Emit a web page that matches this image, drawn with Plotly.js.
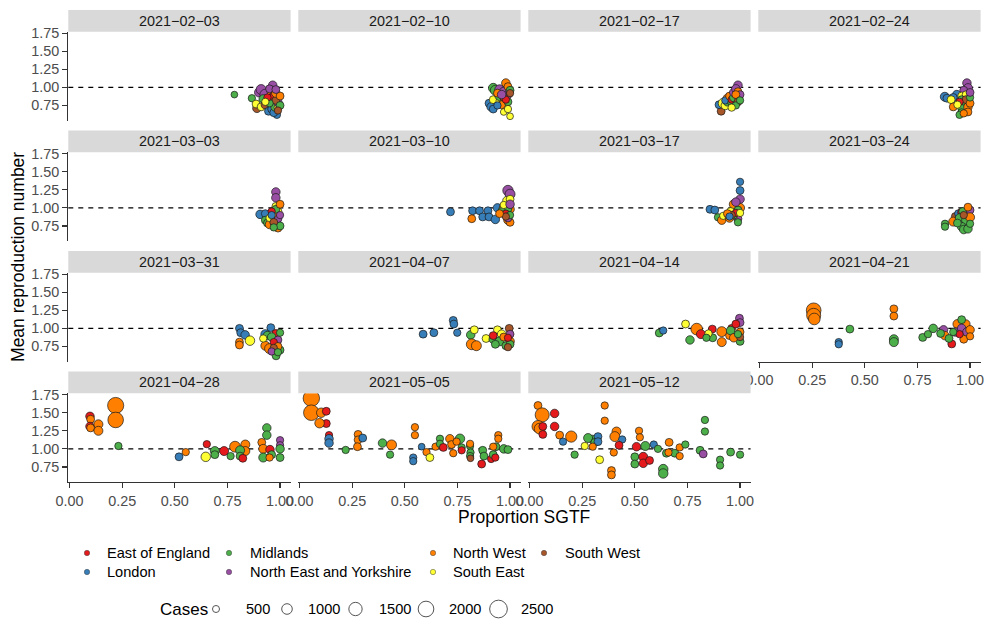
<!DOCTYPE html>
<html>
<head>
<meta charset="utf-8">
<script src="https://cdn.plot.ly/plotly-3.0.1.min.js"></script>
<style>
  html, body { margin: 0; padding: 0; background: #fff; }
  #chart { width: 986px; height: 624px; }
</style>
</head>
<body>
<div id="chart"></div>
<script>
// Facet labels (one panel per week)
const weeks = ['2021-02-03', '2021-02-10', '2021-02-17', '2021-02-24',
               '2021-03-03', '2021-03-10', '2021-03-17', '2021-03-24',
               '2021-03-31', '2021-04-07', '2021-04-14', '2021-04-21',
               '2021-04-28', '2021-05-05', '2021-05-12'];

// Regions: code, label, colour
const regionCodes  = ['E', 'L', 'M', 'N', 'W', 'S', 'B'];
const regionNames  = ['East of England', 'London', 'Midlands', 'North East and Yorkshire',
                      'North West', 'South East', 'South West'];
const regionColors = ['#E41A1C', '#377EB8', '#4DAF4A', '#984EA3', '#FF7F00', '#FFFF33', '#A65628'];

// Size legend breaks (cases)
const caseBreaks = [500, 1000, 1500, 2000, 2500];

// Axis ticks
const xTicks = [0, 0.25, 0.5, 0.75, 1];
const xTickText = ['0.00', '0.25', '0.50', '0.75', '1.00'];
const yTicks = [0.75, 1, 1.25, 1.5, 1.75];
const yTickText = ['0.75', '1.00', '1.25', '1.50', '1.75'];

// Each point: [region, proportion SGTF, mean R, cases]
const w0203 = [
  ['M',0.783,0.90,470], ['M',0.866,0.85,540],
  ['B',0.89,0.71,690], ['S',0.886,0.77,610], ['N',0.90,0.93,760], ['N',0.91,0.97,900],
  ['N',0.93,0.90,1040], ['M',0.92,0.84,690], ['S',0.91,0.73,610], ['W',0.94,0.80,760],
  ['B',0.93,0.76,690], ['L',0.945,0.67,610], ['L',0.96,0.70,610], ['L',0.985,0.62,540],
  ['L',0.97,0.65,610], ['W',0.96,0.94,760], ['W',0.96,0.85,830], ['N',0.965,1.03,690],
  ['N',0.95,0.98,610], ['E',0.97,0.88,610], ['M',0.976,0.73,690], ['S',0.99,0.72,610],
  ['N',0.99,0.79,690], ['B',0.98,0.82,610], ['M',0.95,0.78,540], ['W',0.98,0.92,690],
  ['E',0.94,0.86,540], ['S',0.93,0.80,540], ['M',1.00,0.75,610], ['B',0.99,0.68,540],
  ['W',1.0,0.88,610], ['N',0.98,0.97,610]
];
const w0210 = [
  ['L',0.90,0.78,610], ['L',0.91,0.73,690], ['L',0.92,0.70,610], ['S',0.92,0.83,610],
  ['S',0.95,0.81,540], ['S',0.98,0.74,540], ['S',1.0,0.60,470], ['S',0.97,0.66,470],
  ['M',0.92,0.99,830], ['M',0.93,0.96,900], ['N',0.95,0.97,830], ['N',0.97,0.94,760],
  ['W',0.98,1.06,690], ['W',0.99,1.01,610], ['N',0.99,0.90,690], ['M',0.95,0.88,760],
  ['B',0.97,0.86,610], ['W',0.96,0.76,610], ['M',0.99,0.80,610], ['E',0.98,0.83,540],
  ['L',0.94,0.75,540], ['S',0.99,0.70,540], ['M',1.0,0.96,610], ['B',1.0,0.92,540],
  ['W',0.94,0.92,610], ['N',0.96,0.90,690]
];
const w0217 = [
  ['B',0.91,0.67,610], ['L',0.90,0.76,610], ['S',0.92,0.78,900], ['S',0.93,0.75,690],
  ['M',0.94,0.80,690], ['W',0.94,0.85,690], ['L',0.93,0.82,540], ['M',0.96,0.79,610],
  ['W',0.95,0.88,610], ['E',0.96,0.83,540], ['M',0.97,0.86,690], ['N',0.97,0.93,690],
  ['N',0.99,1.03,690], ['N',0.98,0.98,690], ['W',0.99,0.94,610], ['M',0.99,0.88,610],
  ['B',0.99,0.80,610], ['M',0.98,0.75,540], ['S',0.96,0.72,540], ['N',1.0,0.90,610],
  ['W',0.98,0.90,610], ['M',1.0,0.82,540]
];
const w0224 = [
  ['L',0.88,0.87,760], ['L',0.89,0.85,610], ['L',0.937,0.90,690], ['L',0.92,0.86,610],
  ['S',0.91,0.83,610], ['W',0.92,0.73,610], ['N',0.985,1.06,690], ['N',0.99,0.99,760],
  ['N',0.97,0.96,610], ['S',0.96,0.88,610], ['S',0.98,0.90,540], ['M',0.96,0.83,610],
  ['M',0.96,0.77,610], ['M',0.96,0.71,610], ['M',0.96,0.65,610], ['M',0.95,0.62,540],
  ['W',0.99,0.73,690], ['W',0.99,0.66,610], ['W',0.97,0.64,540], ['B',0.98,0.83,610],
  ['E',0.95,0.80,540], ['S',0.94,0.76,540], ['W',1.0,0.78,610], ['M',1.0,0.86,540],
  ['N',1.0,0.93,610]
];
const w0303 = [
  ['L',0.905,0.91,690], ['L',0.93,0.92,610], ['N',0.98,1.22,690], ['N',0.98,1.14,690],
  ['M',0.93,0.83,610], ['M',0.94,0.79,610], ['W',0.95,0.77,690], ['M',0.96,0.88,690],
  ['S',0.98,1.02,610], ['S',0.99,0.95,610], ['N',0.99,0.85,610], ['W',0.97,0.93,690],
  ['M',0.98,0.98,610], ['E',0.96,0.95,540], ['W',0.99,0.72,610], ['M',1.0,0.75,610],
  ['S',0.95,0.86,540], ['B',0.97,0.80,610], ['N',1.0,0.90,540], ['M',0.97,0.73,540],
  ['W',1.0,1.05,610], ['L',0.96,0.90,540]
];
const w0310 = [
  ['L',0.717,0.945,610], ['L',0.822,0.96,610], ['L',0.855,0.96,610], ['L',0.895,0.96,610],
  ['W',0.818,0.85,610], ['L',0.87,0.875,610], ['L',0.90,0.875,610], ['L',0.93,0.84,690],
  ['L',0.94,1.0,690], ['L',0.96,0.93,610], ['N',0.99,1.24,970], ['N',1.0,1.19,900],
  ['S',0.985,1.10,690], ['S',1.0,1.12,610], ['W',0.97,1.0,760], ['W',1.0,0.98,690],
  ['M',0.99,0.99,610], ['W',0.99,0.83,690], ['W',1.0,0.80,610], ['N',0.99,0.86,610],
  ['M',0.96,0.95,610], ['S',0.97,1.04,540], ['E',0.98,0.92,540], ['M',1.0,0.90,540],
  ['B',0.98,0.88,540], ['W',0.95,0.92,610], ['N',1.0,1.05,690]
];
const w0317 = [
  ['L',0.857,0.98,610], ['L',0.88,0.97,610], ['M',0.895,0.87,540], ['W',0.913,0.83,690],
  ['S',0.92,0.89,540], ['L',1.0,1.36,540], ['L',1.0,1.24,610], ['N',1.0,1.12,690],
  ['W',0.97,1.05,760], ['W',1.0,1.0,760], ['S',0.955,0.95,610], ['M',0.99,0.97,610],
  ['N',0.99,0.85,610], ['W',0.95,0.86,690], ['M',0.97,0.90,610], ['E',0.98,0.93,540],
  ['N',0.98,1.08,690], ['M',0.99,0.80,540], ['B',0.96,0.90,540], ['W',0.94,0.92,610],
  ['S',1.0,0.93,540], ['L',0.95,0.88,540]
];
const w0324 = [
  ['M',0.881,0.78,540], ['M',0.881,0.74,540], ['B',0.93,0.88,610], ['W',0.92,0.81,760],
  ['L',0.945,0.92,610], ['E',0.96,0.94,610], ['M',0.965,0.95,610], ['N',1.0,0.97,610],
  ['W',0.99,1.01,610], ['M',0.95,0.86,690], ['M',0.98,0.83,690], ['W',1.0,0.87,760],
  ['M',0.96,0.74,690], ['M',0.97,0.70,690], ['M',0.99,0.71,690], ['M',0.94,0.79,610],
  ['B',0.97,0.90,540], ['M',1.0,0.78,540]
];
const w0331 = [
  ['L',0.807,1.0,610], ['L',0.813,0.94,610], ['L',0.834,0.91,690], ['W',0.807,0.81,610],
  ['W',0.807,0.77,610], ['S',0.857,0.83,830], ['L',0.956,1.01,610], ['L',0.93,0.92,760],
  ['M',0.94,0.90,690], ['E',0.98,0.93,610], ['W',0.93,0.76,760], ['W',0.95,0.72,900],
  ['M',0.96,0.88,690], ['M',0.98,0.78,610], ['N',0.99,0.84,610], ['M',0.981,0.62,610],
  ['M',1.0,0.70,610], ['E',0.97,0.81,540], ['W',0.99,0.75,610], ['S',0.92,0.86,540],
  ['M',1.0,0.94,540], ['B',0.97,0.73,540], ['N',0.96,0.68,540], ['M',0.99,0.67,540]
];
const w0407 = [
  ['L',0.587,0.92,610], ['L',0.638,0.94,610], ['L',0.73,1.11,610], ['L',0.733,1.06,610],
  ['L',0.749,0.94,540], ['M',0.813,0.91,690], ['W',0.818,0.78,1040], ['W',0.84,0.76,900],
  ['S',0.83,0.98,610], ['S',0.886,0.86,610], ['S',0.94,0.98,610], ['S',0.96,0.92,690],
  ['M',0.92,0.85,690], ['M',0.95,0.82,760], ['M',0.93,0.78,610], ['E',0.92,0.90,610],
  ['B',0.996,1.0,610], ['N',1.0,0.92,610], ['W',1.0,0.82,690], ['M',0.98,0.76,610],
  ['W',0.97,0.88,610], ['M',1.0,0.78,610], ['E',0.99,0.87,540], ['B',0.99,0.74,540]
];
const w0414 = [
  ['M',0.616,0.936,610], ['L',0.635,0.97,540], ['S',0.741,1.06,610], ['W',0.794,0.99,1180],
  ['M',0.762,0.84,690], ['E',0.814,0.92,760], ['E',0.868,0.99,610], ['M',0.87,0.87,610],
  ['W',0.913,0.955,900], ['W',0.913,0.81,760], ['S',0.85,0.93,540], ['M',0.84,0.87,540],
  ['W',0.95,0.90,610], ['E',0.96,1.00,610], ['M',0.955,0.97,690], ['N',0.997,1.14,610],
  ['N',1.0,1.08,610], ['E',0.98,1.06,610], ['M',1.0,0.82,610], ['W',0.97,0.87,690],
  ['W',1.0,0.95,610], ['B',1.0,0.88,540], ['M',0.99,0.92,540]
];
const w0421 = [
  ['W',0.257,1.25,1790], ['W',0.257,1.18,1650], ['W',0.26,1.13,1180], ['L',0.376,0.81,540],
  ['L',0.376,0.78,540], ['M',0.429,0.99,610], ['W',0.638,1.27,610], ['W',0.638,1.17,610],
  ['M',0.638,0.85,760], ['M',0.638,0.81,760], ['M',0.775,0.875,610], ['M',0.825,1.0,690],
  ['M',0.80,0.92,540], ['N',0.874,0.98,690], ['W',0.88,0.90,690], ['M',0.86,0.93,610],
  ['E',0.913,0.785,610], ['M',0.90,0.86,610], ['W',0.94,1.06,760], ['W',0.98,1.06,690],
  ['M',0.96,1.12,610], ['N',0.93,0.95,690], ['N',0.96,1.0,690], ['N',0.985,0.95,690],
  ['W',1.0,0.98,690], ['W',0.97,0.85,610], ['E',0.95,0.92,540], ['W',1.0,0.89,540],
  ['M',0.92,0.95,540]
];
const w0428 = [
  ['E',0.097,1.45,690], ['W',0.10,1.41,610], ['E',0.097,1.31,690], ['W',0.10,1.29,610],
  ['W',0.137,1.34,760], ['W',0.137,1.25,760], ['W',0.219,1.60,2120], ['W',0.219,1.40,1980],
  ['M',0.232,1.04,540], ['L',0.52,0.89,610], ['W',0.552,0.955,540], ['E',0.652,1.065,540],
  ['S',0.647,0.89,830], ['M',0.69,0.97,760], ['M',0.69,0.92,610], ['E',0.734,0.97,760],
  ['M',0.765,0.90,540], ['W',0.786,1.03,1040], ['W',0.835,1.06,760], ['W',0.835,0.97,760],
  ['M',0.81,0.98,760], ['M',0.81,0.90,610], ['E',0.823,0.87,610], ['W',0.913,1.09,610],
  ['W',0.92,1.0,760], ['M',0.92,0.88,760], ['E',0.952,0.99,690], ['M',0.937,1.29,690],
  ['M',0.937,1.19,690], ['N',1.0,1.12,540], ['N',1.0,1.05,540], ['M',1.0,1.0,690],
  ['M',1.0,0.88,610], ['M',0.96,0.92,610], ['W',0.95,0.88,540]
];
const w0505 = [
  ['W',0.056,1.70,2180], ['W',0.056,1.50,1980], ['W',0.103,1.50,830], ['E',0.127,1.52,610],
  ['E',0.127,1.35,610], ['W',0.095,1.355,830], ['E',0.14,1.19,540], ['L',0.14,1.14,690],
  ['L',0.14,1.08,690], ['M',0.219,0.985,540], ['W',0.278,1.2,610], ['W',0.278,1.125,610],
  ['W',0.275,1.03,610], ['L',0.30,1.15,610], ['M',0.394,1.08,690], ['W',0.437,1.055,900],
  ['M',0.43,0.92,540], ['W',0.548,1.30,540], ['W',0.548,1.19,540], ['L',0.54,0.88,540],
  ['L',0.54,0.83,540], ['L',0.58,1.03,470], ['W',0.603,0.955,540], ['S',0.619,0.88,610],
  ['W',0.646,1.03,540], ['M',0.667,1.14,540], ['M',0.667,1.07,540], ['E',0.683,1.02,610],
  ['W',0.714,1.14,690], ['W',0.722,1.06,610], ['W',0.73,0.94,540], ['M',0.762,1.14,830],
  ['M',0.77,1.02,540], ['E',0.77,0.98,540], ['W',0.746,1.10,540], ['M',0.81,1.04,540],
  ['M',0.812,0.95,540], ['M',0.81,0.90,540], ['W',0.81,1.07,540], ['B',0.812,0.87,470],
  ['E',0.865,0.79,610], ['M',0.87,0.98,610], ['M',0.876,0.90,610], ['E',0.91,0.86,540],
  ['W',0.944,1.19,540], ['W',0.944,1.14,540], ['M',0.933,1.03,610], ['M',0.92,0.92,610],
  ['W',0.92,1.03,540], ['M',0.97,1.0,690], ['M',0.99,0.99,610], ['E',0.93,0.88,540]
];
const w0512 = [
  ['W',0.04,1.60,610], ['W',0.06,1.47,1650], ['W',0.04,1.31,1240], ['W',0.048,1.28,1040],
  ['E',0.119,1.49,690], ['E',0.063,1.31,610], ['E',0.063,1.20,610], ['E',0.119,1.31,690],
  ['W',0.143,1.19,610], ['W',0.198,1.17,1110], ['L',0.159,1.10,540], ['W',0.357,1.60,540],
  ['W',0.357,1.39,540], ['M',0.30,1.13,690], ['M',0.278,1.15,760], ['M',0.31,1.09,610],
  ['L',0.325,1.17,610], ['L',0.325,1.10,610], ['W',0.30,1.03,540], ['S',0.262,1.04,540],
  ['M',0.214,0.92,540], ['S',0.333,0.85,610], ['W',0.389,0.70,610], ['W',0.389,0.64,610],
  ['W',0.413,1.24,760], ['W',0.405,1.17,900], ['L',0.44,1.13,540], ['E',0.425,1.05,610],
  ['W',0.40,0.95,540], ['W',0.52,1.25,540], ['W',0.524,1.16,540], ['E',0.508,1.03,690],
  ['M',0.50,0.89,610], ['M',0.50,0.79,610], ['E',0.54,0.89,760], ['E',0.54,0.80,690],
  ['E',0.57,0.84,610], ['M',0.55,1.04,760], ['L',0.59,1.06,540], ['M',0.61,1.0,540],
  ['M',0.635,0.72,830], ['M',0.635,0.66,830], ['W',0.663,1.09,610], ['M',0.65,0.94,610],
  ['M',0.69,0.94,610], ['W',0.713,1.02,540], ['W',0.713,0.90,540], ['M',0.74,1.06,540],
  ['W',0.66,0.95,540], ['M',0.81,0.98,610], ['N',0.825,0.93,610], ['M',0.833,1.40,540],
  ['M',0.833,1.24,540], ['M',0.905,0.85,540], ['M',0.905,0.77,540], ['M',0.955,0.955,610],
  ['M',1.0,0.92,540]
];

const weekPoints = [w0203, w0210, w0217, w0224, w0303, w0310, w0317, w0324,
                    w0331, w0407, w0414, w0421, w0428, w0505, w0512];

// ---- geometry (pixels) ----
const W = 986, H = 624;
const colLeft = [68.3, 298.3, 528.3, 758.3];
const panelW = 222.3;
const rowTop = [31.7, 152.2, 272.7, 393.2];
const panelH = 89;
const stripH = 21.7;
const xRange = [-0.006, 1.05];
const yRange = [0.539, 1.770];
const FONT = 'Liberation Sans, Arial, sans-serif';

const px = p => p / W;
const py = p => 1 - p / H;
// point diameter (px) from case count, area-style scale
const dotSize = c => 0.387 * Math.sqrt(c) - 1.65;
const colourOf = code => regionColors[regionCodes.indexOf(code)];

const traces = [];
const shapes = [];
const annotations = [];
const layout = {
  width: W, height: H,
  margin: {l: 0, r: 0, t: 0, b: 0},
  paper_bgcolor: '#fff', plot_bgcolor: '#fff',
  showlegend: false,
  font: {family: FONT, color: '#4D4D4D'},
  shapes: shapes,
  annotations: annotations
};

weeks.forEach((week, i) => {
  const r = Math.floor(i / 4), c = i % 4;
  const n = i === 0 ? '' : String(i + 1);
  const pts = weekPoints[i];
  const hasX = (r === 3) || (i === 11);
  const hasY = (c === 0);

  layout['xaxis' + n] = {
    domain: [px(colLeft[c]), px(colLeft[c] + panelW)],
    range: xRange, anchor: 'y' + n,
    showgrid: false, zeroline: false, fixedrange: true,
    showline: hasX, linecolor: '#333333', linewidth: 1.2,
    ticks: hasX ? 'outside' : '', ticklen: 5, tickwidth: 1.2, tickcolor: '#333333',
    tickvals: xTicks, ticktext: xTickText, showticklabels: hasX,
    tickfont: {size: 14.4, color: '#4D4D4D', family: FONT}
  };
  layout['yaxis' + n] = {
    domain: [py(rowTop[r] + panelH), py(rowTop[r])],
    range: yRange, anchor: 'x' + n,
    showgrid: false, zeroline: false, fixedrange: true,
    showline: hasY, linecolor: '#333333', linewidth: 1.2,
    ticks: hasY ? 'outside' : '', ticklen: 5, tickwidth: 1.2, tickcolor: '#333333',
    tickvals: yTicks, ticktext: yTickText, showticklabels: hasY,
    tickfont: {size: 14.4, color: '#4D4D4D', family: FONT}
  };

  // reference line at R = 1
  shapes.push({
    type: 'line', layer: 'below',
    xref: 'x' + n + ' domain', x0: 0, x1: 1,
    yref: 'y' + n, y0: 1, y1: 1,
    line: {color: '#000', width: 1.1, dash: '5px,5px'}
  });

  // facet strip
  shapes.push({
    type: 'rect', xref: 'paper', yref: 'paper',
    x0: px(colLeft[c]), x1: px(colLeft[c] + panelW),
    y0: py(rowTop[r]), y1: py(rowTop[r] - stripH),
    fillcolor: '#D9D9D9', line: {width: 0}
  });
  annotations.push({
    xref: 'paper', yref: 'paper',
    x: px(colLeft[c] + panelW / 2), y: py(rowTop[r] - stripH / 2),
    text: week.replace(/-/g, '\u2212'), showarrow: false,
    xanchor: 'center', yanchor: 'middle',
    font: {size: 14.4, color: '#1A1A1A', family: FONT}
  });

  traces.push({
    type: 'scatter', mode: 'markers',
    xaxis: 'x' + n, yaxis: 'y' + n,
    x: pts.map(p => p[1]), y: pts.map(p => p[2]),
    marker: {
      color: pts.map(p => colourOf(p[0])),
      size: pts.map(p => dotSize(p[3])),
      line: {color: '#1A1A1A', width: 0.7},
      opacity: 1
    },
    cliponaxis: true, hoverinfo: 'skip', showlegend: false
  });
});

// axis titles
annotations.push({
  xref: 'paper', yref: 'paper', x: px(18), y: py((rowTop[0] + rowTop[3] + panelH) / 2),
  text: 'Mean reproduction number', textangle: -90, showarrow: false,
  xanchor: 'center', yanchor: 'middle',
  font: {size: 17.5, color: '#000', family: FONT}
});
annotations.push({
  xref: 'paper', yref: 'paper', x: px(524), y: py(517),
  text: 'Proportion SGTF', showarrow: false,
  xanchor: 'center', yanchor: 'middle',
  font: {size: 17.5, color: '#000', family: FONT}
});

// colour legend: two rows, filled column-wise
const legDotX = [87, 229, 433, 544];
const legTextX = [105, 248, 451, 563];
const legRows = [553, 572];
regionNames.forEach((name, k) => {
  const col = Math.floor(k / 2), row = k % 2;
  const cx = legDotX[col], cy = legRows[row];
  shapes.push({
    type: 'circle', xref: 'paper', yref: 'paper',
    x0: px(cx - 2.7), x1: px(cx + 2.7), y0: py(cy + 2.7), y1: py(cy - 2.7),
    fillcolor: regionColors[k], line: {color: '#444', width: 0.5}
  });
  annotations.push({
    xref: 'paper', yref: 'paper', x: px(legTextX[col]), y: py(cy),
    text: name, showarrow: false, xanchor: 'left', yanchor: 'middle',
    font: {size: 14.6, color: '#000', family: FONT}
  });
});

// size legend
const sizeY = 609;
const sizeKeyX = [216, 287, 355.5, 426, 498.5];
const sizeTextX = [244, 306, 377, 446.5, 518.5];
annotations.push({
  xref: 'paper', yref: 'paper', x: px(158), y: py(sizeY),
  text: 'Cases', showarrow: false, xanchor: 'left', yanchor: 'middle',
  font: {size: 17, color: '#000', family: FONT}
});
caseBreaks.forEach((v, k) => {
  const rad = dotSize(v) / 2;
  const cx = sizeKeyX[k];
  shapes.push({
    type: 'circle', xref: 'paper', yref: 'paper',
    x0: px(cx - rad), x1: px(cx + rad), y0: py(sizeY + rad), y1: py(sizeY - rad),
    fillcolor: '#fff', line: {color: '#555', width: 1}
  });
  annotations.push({
    xref: 'paper', yref: 'paper', x: px(sizeTextX[k]), y: py(sizeY),
    text: String(v), showarrow: false, xanchor: 'left', yanchor: 'middle',
    font: {size: 14.6, color: '#000', family: FONT}
  });
});

Plotly.newPlot('chart', traces, layout, {staticPlot: true, displayModeBar: false});
</script>
</body>
</html>
